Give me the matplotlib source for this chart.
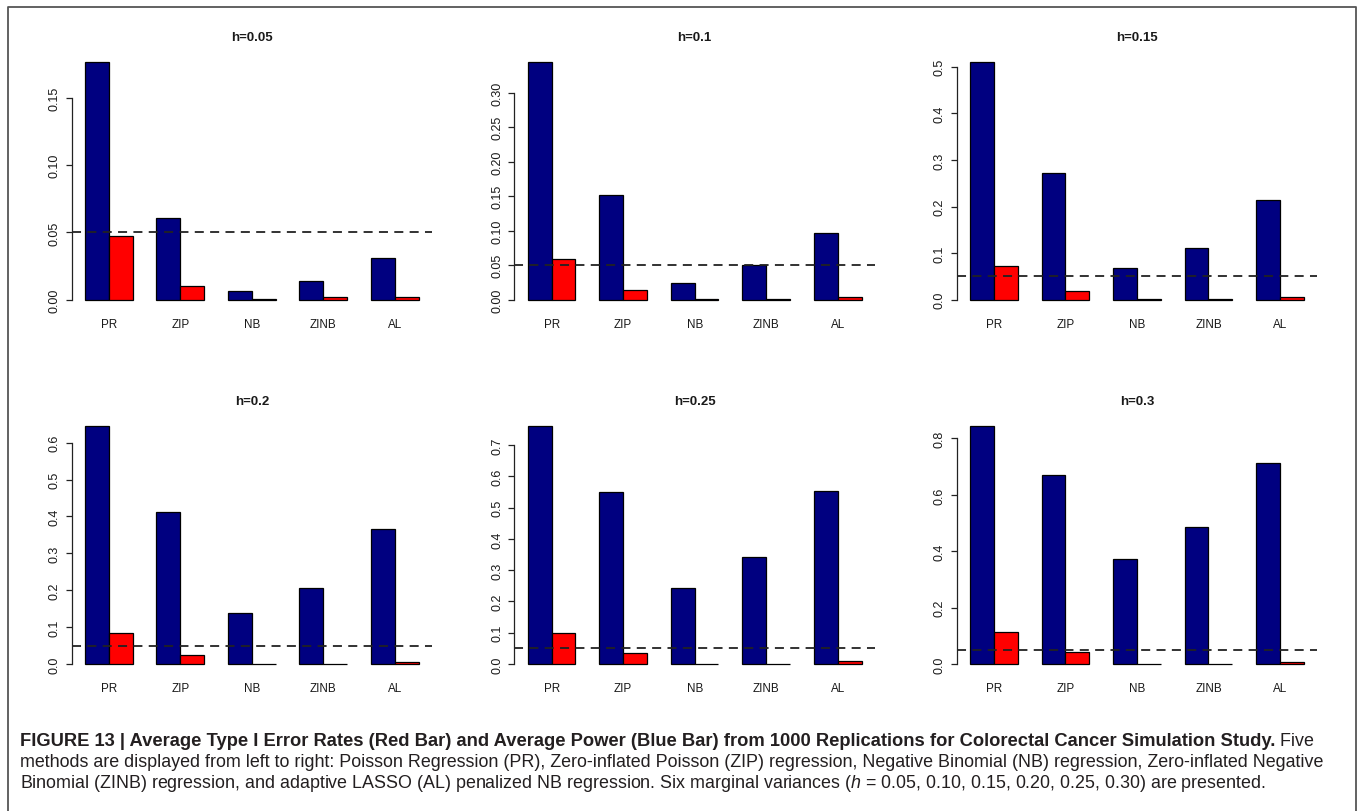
import matplotlib
matplotlib.use("Agg")
import matplotlib.pyplot as plt
from matplotlib.lines import Line2D

plt.rcParams["font.family"] = ["Liberation Sans", "DejaVu Sans"]
plt.rcParams["mathtext.fontset"] = "custom"
plt.rcParams["mathtext.rm"] = "Liberation Sans"
plt.rcParams["mathtext.it"] = "Liberation Sans:italic"

W, H = 1357, 812

# ──────────────────────────────────────────────────────────────
# Data
# ──────────────────────────────────────────────────────────────
methods = ["PR", "ZIP", "NB", "ZINB", "AL"]
h_labels = ["h=0.05", "h=0.1", "h=0.15", "h=0.2", "h=0.25", "h=0.3"]

# average power (blue bars)
power_h005 = [0.177, 0.061, 0.0065, 0.0136, 0.031]
power_h010 = [0.345, 0.152, 0.024, 0.050, 0.096]
power_h015 = [0.511, 0.272, 0.067, 0.112, 0.213]
power_h020 = [0.645, 0.412, 0.137, 0.205, 0.365]
power_h025 = [0.761, 0.550, 0.244, 0.343, 0.552]
power_h030 = [0.844, 0.670, 0.371, 0.486, 0.712]

# average type I error rate (red bars)
err_h005 = [0.047, 0.010, 0.0003, 0.0017, 0.0022]
err_h010 = [0.0585, 0.014, 0.0005, 0.0010, 0.0044]
err_h015 = [0.072, 0.019, 0.0005, 0.0010, 0.0064]
err_h020 = [0.083, 0.025, 0.0005, 0.0010, 0.0063]
err_h025 = [0.098, 0.034, 0.0005, 0.0010, 0.0085]
err_h030 = [0.115, 0.043, 0.0005, 0.0010, 0.0083]

yticks_h005 = [0.00, 0.05, 0.10, 0.15]
yticks_h010 = [0.00, 0.05, 0.10, 0.15, 0.20, 0.25, 0.30]
yticks_h015 = [0.0, 0.1, 0.2, 0.3, 0.4, 0.5]
yticks_h020 = [0.0, 0.1, 0.2, 0.3, 0.4, 0.5, 0.6]
yticks_h025 = [0.0, 0.1, 0.2, 0.3, 0.4, 0.5, 0.6, 0.7]
yticks_h030 = [0.0, 0.2, 0.4, 0.6, 0.8]
ytick_fmt = ["{:.2f}", "{:.2f}", "{:.1f}", "{:.1f}", "{:.1f}", "{:.1f}"]

nominal_alpha = 0.05

powers = [power_h005, power_h010, power_h015, power_h020, power_h025, power_h030]
errors = [err_h005, err_h010, err_h015, err_h020, err_h025, err_h030]
yticks = [yticks_h005, yticks_h010, yticks_h015, yticks_h020, yticks_h025, yticks_h030]

BLUE = "#000080"
RED = "#ff0000"
TXT = "#1a1a1a"
CAP = "#231f20"

# ──────────────────────────────────────────────────────────────
# Plot: 2 x 3 grid of grouped bar charts (R barplot look)
# ──────────────────────────────────────────────────────────────
fig = plt.figure(figsize=(W / 100, H / 100), dpi=100)

col_left = [71.5, 514.4, 956.7]
row_top = [53.2, 417.5]
ax_w, ax_h = 360.5, 257.0

for i in range(6):
    r, c = divmod(i, 3)
    ax = fig.add_axes([col_left[c] / W, 1 - (row_top[r] + ax_h) / H, ax_w / W, ax_h / H])

    pos = [1 + 3 * g for g in range(len(methods))]
    ax.bar(pos, powers[i], width=1, align="edge", color=BLUE, edgecolor="black", linewidth=0.9)
    ax.bar([p + 1 for p in pos], errors[i], width=1, align="edge", color=RED,
           edgecolor="black", linewidth=0.9)
    ax.axhline(nominal_alpha, color="#222222", lw=1.3, ls=(0, (5, 3.5)), zorder=3)

    top = max(max(powers[i]), max(errors[i]))
    ax.set_ylim(-0.04 * top, 1.04 * top)
    ax.set_xlim(1 - 0.56, 15 + 0.56)

    ax.set_xticks([p + 1 for p in pos])
    ax.set_xticklabels(methods, fontsize=8.4, color=TXT)
    ax.tick_params(axis="x", length=0, pad=6)

    ax.set_yticks(yticks[i])
    ax.set_yticklabels([ytick_fmt[i].format(t) for t in yticks[i]], rotation=90,
                       va="center", fontsize=9, color=TXT)
    ax.tick_params(axis="y", length=4.5, width=0.9, pad=3.5, color="#222222")

    for s in ["top", "right", "bottom"]:
        ax.spines[s].set_visible(False)
    ax.spines["left"].set_bounds(yticks[i][0], yticks[i][-1])
    ax.spines["left"].set_linewidth(0.9)
    ax.spines["left"].set_color("#222222")

    ax.set_title(h_labels[i], fontsize=9.5, fontweight="bold", pad=9, color=TXT)

# frame round the figure panel
frame = Line2D([7.5 / W, 7.5 / W, 1355.5 / W, 1355.5 / W],
               [0, 1 - 7.5 / H, 1 - 7.5 / H, 0],
               transform=fig.transFigure, color="#555555", lw=1.3)
fig.add_artist(frame)

# caption
cap_x = 20 / W
bold = fig.text(cap_x, 1 - 746 / H,
                "FIGURE 13 | Average Type I Error Rates (Red Bar) and Average Power (Blue Bar) "
                "from 1000 Replications for Colorectal Cancer Simulation Study.",
                fontsize=13.2, fontweight="bold", color=CAP, va="baseline")
cap_line2 = ("methods are displayed from left to right: Poisson Regression (PR), Zero-inflated "
             "Poisson (ZIP) regression, Negative Binomial (NB) regression, Zero-inflated Negative")
cap_line3 = ("Binomial (ZINB) regression, and adaptive LASSO (AL) penalized NB regression. "
             "Six marginal variances ($h$ = 0.05, 0.10, 0.15, 0.20, 0.25, 0.30) are presented.")
fig.text(cap_x, 1 - 767 / H, cap_line2, fontsize=12.85, color=CAP, va="baseline")
fig.text(cap_x, 1 - 788.5 / H, cap_line3, fontsize=12.85, color=CAP, va="baseline")

# put " Five" right after the bold part
fig.canvas.draw()
bb = bold.get_window_extent()
fig.text(bb.x1 / W, 1 - 746 / H, " Five", fontsize=12.85, color=CAP, va="baseline")

fig.savefig("out.png", dpi=100)
